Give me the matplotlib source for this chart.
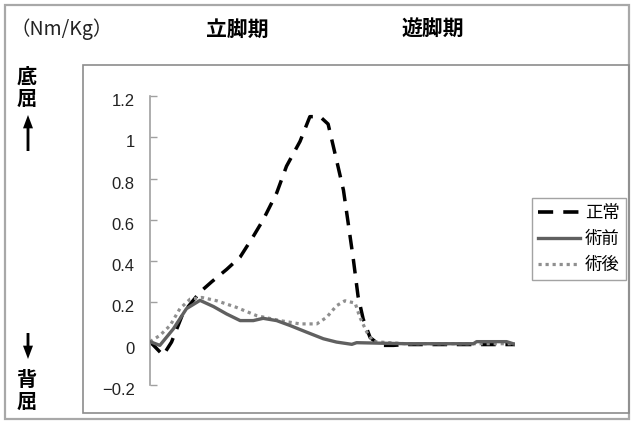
import matplotlib
matplotlib.use("Agg")
import matplotlib.pyplot as plt
from matplotlib.patches import Rectangle, FancyArrowPatch
from matplotlib.lines import Line2D
import matplotlib.transforms as mtransforms

plt.rcParams['font.family'] = ['Noto Sans CJK JP', 'DejaVu Sans']

# ankle moment over gait cycle (%), Nm/Kg
normal_x = [0, 3.6, 5.9, 9.1, 13.7, 16.9, 21, 24.7, 28.3, 31, 34.7, 37.4, 41.1,
            43.8, 46.6, 48.8, 51.1, 53, 54.3, 55.7, 57, 58.4, 60.3, 63, 66.7, 70, 100]
normal_y = [0.01, -0.056, 0.008, 0.15, 0.25, 0.30, 0.36, 0.42, 0.52, 0.60, 0.73, 0.86, 0.98,
            1.10, 1.10, 1.064, 0.89, 0.744, 0.584, 0.41, 0.23, 0.12, 0.03, -0.008, -0.008, -0.004, -0.004]

pre_x = [0, 2.7, 6.4, 10, 13.7, 17.4, 21, 24.7, 28.3, 31, 34.7, 38.4, 42.9,
         47.5, 51.1, 55.3, 56.6, 70, 88.6, 89.5, 97.7, 100]
pre_y = [0.01, -0.008, 0.072, 0.17, 0.21, 0.18, 0.144, 0.112, 0.112, 0.123, 0.112, 0.088, 0.056,
         0.024, 0.008, -0.003, 0.005, 0.0, 0.0, 0.01, 0.01, -0.003]

post_x = [0, 2.7, 5.5, 8.2, 11, 14.2, 18.3, 23.7, 29.2, 35.6, 41.1, 45.7, 48.4,
          51.1, 53.4, 56.2, 57.5, 59.4, 61.2, 70, 100]
post_y = [0.01, 0.04, 0.088, 0.17, 0.216, 0.224, 0.208, 0.176, 0.136, 0.112, 0.096, 0.096, 0.128,
          0.184, 0.208, 0.197, 0.128, 0.056, 0.01, 0.0, 0.0]

series_names = ['正常', '術前', '術後']
yticks = [1.2, 1, 0.8, 0.6, 0.4, 0.2, 0, -0.2]
ytick_labels = ['1.2', '1', '0.8', '0.6', '0.4', '0.2', '0', '\u22120.2']

W, H = 631, 422
fig = plt.figure(figsize=(W / 100, H / 100), dpi=100)


def fx(px):
    return px / W


def fy(py):
    return 1 - py / H


# frames
fig.add_artist(Rectangle((fx(5), fy(419)), fx(624), 414 / H, transform=fig.transFigure,
                         fill=False, edgecolor='#a8a8a8', lw=1.6))
fig.add_artist(Rectangle((fx(83), fy(413)), fx(546), 348 / H, transform=fig.transFigure,
                         fill=False, edgecolor='#8c8c8c', lw=1.2))

ax = fig.add_axes([fx(150), fy(385), fx(365), (385 - 96) / H])
ax.patch.set_visible(False)

l1, = ax.plot(normal_x, normal_y, color='black', lw=2.5, dashes=[4.2, 2.8], zorder=2,
              solid_capstyle='butt', dash_capstyle='butt')
l3, = ax.plot(post_x, post_y, color='#8f8f8f', lw=2.3, dashes=[1, 1.2], zorder=3)
l2, = ax.plot(pre_x, pre_y, color='#606060', lw=2.4, zorder=4)

ax.set_xlim(0, 100)
ax.set_ylim(-0.2, 1.2)
ax.set_yticks(yticks)
ax.set_yticklabels(ytick_labels, family='Liberation Sans', fontsize=12, color='#222222')
ax.tick_params(axis='y', direction='in', length=5, width=1, color='#a0a0a0', pad=11)
ax.set_xticks([])
for s in ['top', 'right', 'bottom']:
    ax.spines[s].set_visible(False)
ax.spines['left'].set_color('#a0a0a0')
ax.spines['left'].set_linewidth(1.2)

# labels sit a little low next to their ticks
shift = mtransforms.ScaledTranslation(0, -4 / 100, fig.dpi_scale_trans)
for lab in ax.get_yticklabels():
    lab.set_transform(lab.get_transform() + shift)

h1 = Line2D([], [], color='black', lw=2.6, dashes=[4.2, 2.8])
h2 = Line2D([], [], color='#606060', lw=2.4)
h3 = Line2D([], [], color='#8f8f8f', lw=2.3, dashes=[1, 1.2])
leg = fig.legend([h1, h2, h3], series_names, loc='upper right',
                 bbox_to_anchor=(fx(626), fy(198)), bbox_transform=fig.transFigure,
                 fontsize=12.5, frameon=True, fancybox=False, edgecolor='#8c8c8c',
                 handlelength=2.4, handletextpad=0.3, labelspacing=0.45,
                 borderpad=0.35, borderaxespad=0)
leg.get_frame().set_linewidth(1.0)

# headings
fig.text(fx(10), fy(29), '（Nm/Kg）', fontsize=14, va='center', ha='left', color='#222222')
fig.text(fx(237), fy(29), '立脚期', fontsize=15, fontweight='bold', va='center', ha='center')
fig.text(fx(433), fy(29), '遊脚期', fontsize=15, fontweight='bold', va='center', ha='center')

# flexion direction labels
fig.text(fx(27), fy(76), '底', fontsize=14.5, fontweight='bold', va='center', ha='center')
fig.text(fx(27), fy(98), '屈', fontsize=14.5, fontweight='bold', va='center', ha='center')
fig.text(fx(27), fy(379), '背', fontsize=14.5, fontweight='bold', va='center', ha='center')
fig.text(fx(27), fy(401), '屈', fontsize=14.5, fontweight='bold', va='center', ha='center')

arrow_style = 'Simple,head_length=0.8,head_width=0.6,tail_width=0.17'
fig.add_artist(FancyArrowPatch((fx(28), fy(151)), (fx(28), fy(115)), transform=fig.transFigure,
                               arrowstyle=arrow_style, mutation_scale=12, lw=0,
                               color='black', shrinkA=0, shrinkB=0))
fig.add_artist(FancyArrowPatch((fx(28), fy(333)), (fx(28), fy(359)), transform=fig.transFigure,
                               arrowstyle=arrow_style, mutation_scale=12, lw=0,
                               color='black', shrinkA=0, shrinkB=0))

fig.savefig('out.png', dpi=100)
